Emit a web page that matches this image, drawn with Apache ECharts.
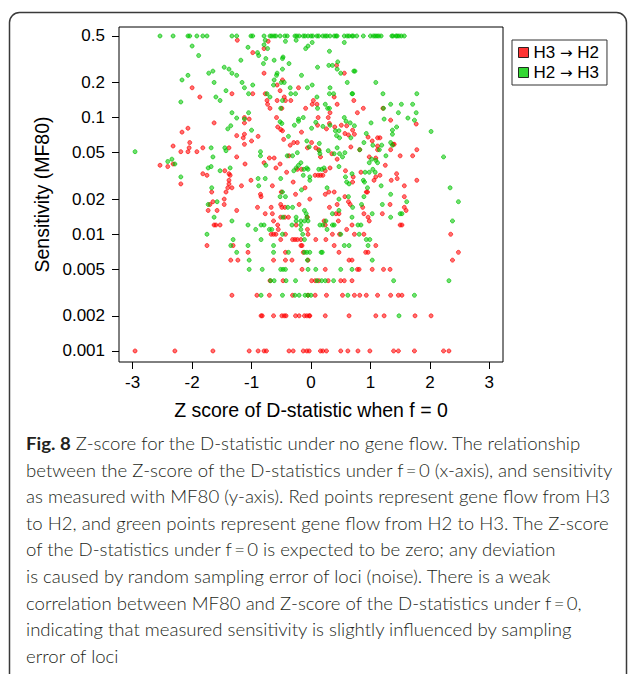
<!DOCTYPE html>
<html><head><meta charset="utf-8">
<script src="https://cdn.jsdelivr.net/npm/echarts@6/dist/echarts.min.js"></script>
<style>html,body{margin:0;padding:0;background:#fff}#c{width:629px;height:674px}</style>
</head><body><div id="c"></div>
<script>
const xTicks = [-3, -2, -1, 0, 1, 2, 3];
const yTicks = [0.001, 0.002, 0.005, 0.01, 0.02, 0.05, 0.1, 0.2, 0.5];
const yTickLabels = ['0.001', '0.002', '0.005', '0.01', '0.02', '0.05', '0.1', '0.2', '0.5'];
const seriesNames = ['H3 \u2192 H2', 'H2 \u2192 H3'];
const xTitle = 'Z score of D-statistic when f = 0';
const yTitle = 'Sensitivity (MF80)';

// H3 -> H2 : [Z score, sensitivity]
const redPoints = [
[-1.24,0.46],[-2.00,0.18],[-1.33,0.16],[-1.87,0.15],[-1.63,0.09],[-2.17,0.075],[-2.07,0.081],[-1.25,0.07],[-2.04,0.061],[-2.32,0.057],[-2.05,0.055],[-1.82,0.055],[-1.38,0.055],[-2.19,0.051],[-2.07,0.051],[-1.92,0.051],[-1.25,0.046],[-2.54,0.039],[-2.41,0.038],[-2.32,0.040],[-1.45,0.035],[-1.38,0.033],[-1.82,0.033],[-1.75,0.032],[-1.36,0.032],[-1.38,0.029],[-1.38,0.027],[-2.19,0.027],[-1.40,0.025],[-1.33,0.025],[-1.67,0.023],[-1.43,0.023],[-1.46,0.020],[-1.70,0.018],[-1.65,0.019],[-1.46,0.018],[-1.73,0.016],[-1.58,0.016],[-1.25,0.016],[-1.63,0.012],[-1.60,0.012],[-1.53,0.012],[-1.75,0.008],[-1.31,0.008],[-1.35,0.006],[-1.23,0.006],[-1.33,0.003],[-2.96,0.001],[-2.29,0.001],[-1.65,0.001],
[-0.79,0.39],[-0.72,0.45],[-0.98,0.36],[0.43,0.28],[0.56,0.24],[-0.79,0.24],[-0.48,0.21],[-0.57,0.19],[-0.21,0.18],[-0.98,0.16],[-0.52,0.17],[0.39,0.15],[0.72,0.14],[-0.77,0.16],[-0.45,0.15],[-0.57,0.14],[-0.43,0.14],[-0.34,0.14],[0.04,0.14],[0.02,0.13],[-0.74,0.14],[-0.73,0.13],[-0.69,0.12],[1.21,0.12],[0.88,0.12],[0.44,0.13],[0.10,0.13],[0.32,0.11],[-0.09,0.12],[-0.49,0.12],[0.78,0.11],[0.12,0.10],[0.29,0.10],[-0.58,0.10],[-1.12,0.10],[-1.04,0.097],[1.34,0.095],
[-1.12,0.090],[-0.51,0.079],[-0.48,0.077],[-0.56,0.083],[0.11,0.086],[0.26,0.080],[0.31,0.089],[0.40,0.083],[0.51,0.086],[0.60,0.085],[1.77,0.088],[-1.12,0.072],[-1.14,0.067],[-0.89,0.069],[-1.00,0.063],[-1.12,0.059],[-0.46,0.065],[-0.16,0.075],[0.57,0.073],[0.63,0.071],[0.70,0.078],[0.73,0.072],[0.96,0.068],[1.12,0.067],[1.16,0.067],[1.03,0.063],[-0.29,0.061],[-0.35,0.058],[-0.23,0.061],[0.01,0.061],[-0.06,0.055],[0.08,0.055],[0.13,0.053],[0.67,0.056],[0.82,0.053],[1.12,0.057],[1.12,0.053],[1.38,0.059],[1.40,0.059],[1.34,0.053],[1.50,0.047],[1.71,0.047],[1.78,0.053],[-0.70,0.045],[-0.62,0.045],[-0.37,0.047],[0.16,0.046],[0.35,0.049],[0.44,0.044],[0.98,0.046],[1.09,0.045],[-0.79,0.041],[-0.52,0.040],[-0.59,0.037],[-1.11,0.040],[-0.23,0.036],[-0.16,0.036],[-0.41,0.034],[0.24,0.035],[0.32,0.037],[0.58,0.035],[0.84,0.034],[1.16,0.032],[1.09,0.031],[1.44,0.033],[1.45,0.030],[1.35,0.029],[1.25,0.039],[1.57,0.026],[1.78,0.029],[0.07,0.032],[0.12,0.032],[0.20,0.032],[0.16,0.032],[-0.30,0.028],[0.71,0.031],[0.70,0.028],[1.06,0.029],[0.93,0.023],[0.95,0.023],[1.57,0.021],[-1.01,0.029],[-1.17,0.026],[-0.65,0.026],[-0.10,0.025],[-0.26,0.022],[-0.50,0.023],[-0.85,0.022],[-0.84,0.021],[-0.02,0.020],[0.24,0.022],[0.30,0.023],[0.39,0.023],[0.57,0.021],
[-0.90,0.017],[-0.67,0.017],[-0.51,0.018],[-0.49,0.017],[-0.44,0.017],[-0.20,0.018],[0.31,0.017],[0.44,0.018],[0.63,0.019],[0.66,0.018],[0.87,0.017],[1.33,0.018],[1.57,0.017],[1.60,0.016],[-0.77,0.015],[-0.65,0.015],[-0.51,0.014],[-0.44,0.014],[-0.38,0.014],[-0.06,0.014],[0.42,0.015],[0.47,0.015],[0.89,0.015],[0.96,0.014],[1.20,0.015],[-0.63,0.013],[0.46,0.013],[0.98,0.013],[0.22,0.013],[-0.56,0.012],[-0.25,0.012],[0.24,0.012],[0.69,0.012],[1.50,0.012],[1.53,0.012],[-0.55,0.011],[-0.06,0.011],[0.60,0.011],[-0.67,0.010],[-0.63,0.010],[-0.59,0.010],[-0.43,0.010],[-0.05,0.010],[0.36,0.010],[0.48,0.010],[0.73,0.010],[0.89,0.010],[-0.51,0.009],[-0.31,0.009],[-0.27,0.009],[-0.23,0.009],[-0.17,0.009],[0.08,0.009],[0.25,0.009],[-0.17,0.008],[-0.15,0.008],[0.39,0.008],[1.09,0.008],[-1.06,0.007],[-0.43,0.007],[-0.13,0.007],[0.47,0.007],[0.92,0.007],[0.96,0.007],[-0.63,0.006],[-0.43,0.006],[-0.32,0.006],[-0.05,0.006],[0.64,0.006],[0.69,0.006],[-0.15,0.005],[0.24,0.005],[0.78,0.005],[0.81,0.005],[1.03,0.005],[1.22,0.005],[1.33,0.005],
[-0.69,0.004],[-0.47,0.004],[0.01,0.004],[0.07,0.004],[0.13,0.004],[0.29,0.004],[0.50,0.004],[0.56,0.004],[0.69,0.004],
[-0.91,0.003],[-0.70,0.003],[-0.31,0.003],[-0.05,0.003],[0.07,0.003],[0.26,0.003],[0.53,0.003],[0.73,0.003],[0.82,0.003],[0.93,0.003],[1.12,0.003],[1.34,0.003],[1.47,0.003],[1.53,0.003],
[-0.84,0.002],[-0.82,0.002],[-0.63,0.002],[-0.49,0.002],[-0.45,0.002],[-0.42,0.002],[-0.26,0.002],[-0.20,0.002],[-0.11,0.002],[-0.07,0.002],[-0.03,0.002],[-0.02,0.002],[0.24,0.002],[0.64,0.002],[1.09,0.002],[1.23,0.002],[1.75,0.002],[2.02,0.002],
[-1.04,0.001],[-0.89,0.001],[-0.79,0.001],[-0.75,0.001],[-0.37,0.001],[-0.30,0.001],[-0.13,0.001],[-0.07,0.001],[-0.03,0.001],[0.16,0.001],[0.20,0.001],[0.26,0.001],[0.50,0.001],[0.62,0.001],[0.79,0.001],[0.99,0.001],[1.39,0.001],[1.47,0.001],[1.74,0.001],[2.23,0.001],[2.32,0.001],
[2.35,0.010],[2.48,0.007],[2.38,0.006]
];

// H2 -> H3 : [Z score, sensitivity]
const greenPoints = [
[-2.54,0.5],[-2.32,0.5],[-2.07,0.5],[-2.04,0.5],[-1.92,0.5],[-1.82,0.5],[-1.75,0.5],[-1.33,0.5],[-1.25,0.5],[-1.01,0.5],[-0.98,0.5],[-0.79,0.5],[-0.69,0.5],[-0.66,0.5],[-0.62,0.5],[-0.59,0.5],[-0.52,0.5],[-0.44,0.5],[-0.40,0.5],[-0.27,0.5],[-0.24,0.5],[-0.20,0.5],[-0.13,0.5],[-0.10,0.5],[-0.05,0.5],[0.00,0.5],[0.03,0.5],[0.10,0.5],[0.13,0.5],[0.20,0.5],[0.24,0.5],[0.27,0.5],[0.32,0.5],[0.39,0.5],[0.42,0.5],[0.44,0.5],[0.56,0.5],[0.61,0.5],[0.64,0.5],[0.69,0.5],[0.71,0.5],[0.77,0.5],[0.88,0.5],[1.00,0.5],[1.05,0.5],[1.08,0.5],[1.11,0.5],[1.14,0.5],[1.18,0.5],[1.36,0.5],[1.38,0.5],[1.43,0.5],[1.45,0.5],[1.48,0.5],[1.52,0.5],[1.57,0.5],
[-2.00,0.41],[-1.89,0.34],[-1.46,0.27],[-1.38,0.26],[-1.65,0.25],[-1.72,0.24],[-2.07,0.23],[-1.33,0.24],[-1.25,0.23],[-2.17,0.21],[-1.63,0.20],[-1.43,0.17],[-1.60,0.15],[-1.53,0.14],[-2.19,0.136],[-1.33,0.11],[-1.25,0.099],[-1.40,0.08],[-1.35,0.085],[-1.68,0.055],[-1.45,0.055],[-2.96,0.051],[-1.43,0.052],[-1.65,0.046],[-2.34,0.044],[-2.41,0.042],[-2.29,0.040],[-1.73,0.037],[-1.68,0.038],[-1.36,0.037],[-1.53,0.035],[-2.19,0.031],[-1.67,0.025],[-1.73,0.018],[-1.58,0.019],[-1.63,0.014],[-1.33,0.013],[-1.75,0.010],[-1.31,0.009],[-1.35,0.008],[-1.25,0.007],
[-1.06,0.40],[-0.79,0.42],[-0.73,0.39],[-0.77,0.46],[-0.43,0.45],[-0.25,0.46],[0.02,0.44],[-0.05,0.41],[-0.09,0.39],[0.56,0.44],[-0.90,0.36],[-0.88,0.34],[-0.76,0.32],[-0.80,0.29],[-0.62,0.31],[-0.47,0.33],[-0.48,0.32],[-0.37,0.29],[-0.48,0.26],[0.31,0.37],[0.30,0.28],[0.36,0.28],[0.45,0.30],[0.44,0.26],[0.50,0.24],[0.11,0.27],[0.72,0.25],[0.74,0.25],[-1.18,0.31],[-0.57,0.24],[-0.58,0.23],[-0.16,0.23],[-0.62,0.21],[-0.50,0.20],[-0.45,0.20],[-0.63,0.19],[-1.16,0.20],[-0.98,0.19],[-1.12,0.18],[-0.35,0.18],[-0.06,0.18],[0.02,0.19],[0.61,0.20],[1.09,0.20],[0.32,0.18],[-1.05,0.16],[-0.34,0.16],[-0.26,0.16],[0.31,0.16],[0.38,0.16],[0.69,0.16],[0.70,0.16],[0.10,0.15],[-0.74,0.16],[-0.69,0.15],[-0.48,0.14],[1.21,0.16],[1.78,0.16],[1.71,0.13],[1.52,0.13],[1.34,0.13],[1.22,0.12],[1.47,0.11],[1.77,0.11],[0.24,0.13],[0.11,0.12],[0.28,0.12],[0.31,0.12],[-0.51,0.12],[0.56,0.10],[-0.13,0.10],[-1.05,0.11],[-1.12,0.097],[-0.21,0.097],[1.23,0.097],[1.63,0.099],[1.74,0.095],
[-0.52,0.092],[-0.49,0.089],[-0.28,0.086],[-0.21,0.093],[0.01,0.081],[0.08,0.091],[0.20,0.084],[0.32,0.086],[0.59,0.093],[0.66,0.090],[0.73,0.085],[1.01,0.090],[1.44,0.083],[1.37,0.078],[1.37,0.072],[-1.00,0.078],[-0.38,0.069],[0.41,0.077],[0.47,0.077],[0.43,0.070],[0.48,0.067],[0.67,0.067],[0.93,0.073],[0.89,0.061],[-0.07,0.063],[0.14,0.060],[-0.03,0.056],[0.14,0.052],[0.29,0.052],[0.44,0.055],[1.04,0.058],[1.19,0.058],[1.15,0.053],[1.34,0.061],[1.37,0.058],[-0.85,0.051],[-0.85,0.047],[-0.40,0.047],[-0.31,0.047],[-0.23,0.050],[0.15,0.049],[0.39,0.049],[0.48,0.049],[0.53,0.046],[0.57,0.050],[0.82,0.053],[0.98,0.041],[1.02,0.044],[1.09,0.043],[1.12,0.041],[1.26,0.047],[-0.76,0.039],[-0.17,0.041],[-0.21,0.039],[-0.25,0.037],[-0.29,0.035],[-0.12,0.036],[-0.07,0.037],[-0.05,0.036],[-0.13,0.032],[0.13,0.036],[0.18,0.036],[0.22,0.037],[0.47,0.038],[0.69,0.033],[0.91,0.034],[0.98,0.034],[1.04,0.036],[1.08,0.034],[-0.02,0.031],[-0.02,0.029],[0.58,0.031],[0.60,0.028],[0.64,0.027],[0.88,0.029],[0.90,0.028],[0.95,0.025],[0.89,0.021],[1.18,0.026],[1.34,0.022],[-0.89,0.030],[-0.77,0.030],[-0.51,0.030],[-0.88,0.026],[-0.16,0.024],[-0.48,0.023],[-0.52,0.021],[-0.43,0.021],[0.27,0.025],[0.63,0.021],[0.47,0.020],
[-0.39,0.017],[-0.31,0.017],[-0.11,0.016],[0.70,0.017],[0.85,0.018],[1.20,0.018],[1.61,0.019],[-0.47,0.014],[-0.25,0.014],[-0.25,0.013],[-0.08,0.015],[-0.07,0.014],[0.36,0.015],[0.47,0.016],[1.03,0.015],[1.34,0.014],[1.50,0.015],[1.53,0.015],[0.69,0.014],[-0.17,0.013],[-0.11,0.013],[-0.05,0.013],[-1.06,0.012],[-0.84,0.012],[-0.79,0.012],[-0.32,0.012],[-0.17,0.012],[0.15,0.012],[0.20,0.012],[0.25,0.013],[0.36,0.012],[0.39,0.012],[0.79,0.012],[0.84,0.012],[-0.93,0.011],[-0.70,0.011],[-0.66,0.011],[-0.17,0.011],[0.27,0.011],[-0.48,0.010],[-0.14,0.010],[0.50,0.010],[0.81,0.010],[0.93,0.009],[0.99,0.009],[-0.84,0.009],[-0.11,0.009],[-1.06,0.008],[-0.63,0.008],[0.56,0.008],[0.64,0.008],[0.96,0.008],[-0.63,0.007],[-0.38,0.007],[-0.11,0.007],[-0.07,0.007],[-0.02,0.007],[0.17,0.007],[0.19,0.007],[-1.04,0.006],[-0.06,0.006],[1.03,0.006],
[-1.04,0.005],[-0.82,0.005],[-0.51,0.005],[-0.47,0.005],[-0.43,0.005],[-0.05,0.005],[0.08,0.005],[0.50,0.005],[0.69,0.005],
[-0.68,0.004],[-0.62,0.004],[-0.42,0.004],[-0.26,0.004],[0.10,0.004],[0.18,0.004],[0.24,0.004],[0.38,0.004],[1.39,0.004],
[-0.84,0.003],[-0.48,0.003],[-0.27,0.003],[-0.20,0.003],[-0.10,0.003],[-0.05,0.003],[0.00,0.003],[0.62,0.003],[1.74,0.003],
[1.48,0.002],
[2.02,0.076],[2.23,0.046],[2.34,0.025],[2.48,0.019],[2.38,0.013],[2.32,0.004]
];

const captionBold = 'Fig. 8';
const captionLines = [
  ' Z-score for the D-statistic under no gene flow. The relationship',
  'between the Z-score of the D-statistics under f\u2009=\u20090 (x-axis), and sensitivity',
  'as measured with MF80 (y-axis). Red points represent gene flow from H3',
  'to H2, and green points represent gene flow from H2 to H3. The Z-score',
  'of the D-statistics under f\u2009=\u20090 is expected to be zero; any deviation',
  'is caused by random sampling error of loci (noise). There is a weak',
  'correlation between MF80 and Z-score of the D-statistics under f\u2009=\u20090,',
  'indicating that measured sensitivity is slightly influenced by sampling',
  'error of loci'
];

const plotFont = '"Liberation Sans", Arial, sans-serif';
const capFont = 'Lato, "Noto Sans", sans-serif';
const capSize = 17;

// caption width scaling so that line 2 spans the same width as the reference
const mctx = document.createElement('canvas').getContext('2d');
mctx.font = '300 ' + capSize + 'px ' + capFont;
const capScale = 588 / mctx.measureText(captionLines[1]).width;

const chart = echarts.init(document.getElementById('c'), null, {renderer: 'svg', width: 629, height: 674});
const L10 = Math.log10;
const yMin = 0.000804, yMax = 0.597;

const captionGraphics = captionLines.map((line, i) => ({
  type: 'text', left: 26, top: 445 + i * 26.6 - capSize * 0.6,
  scaleX: capScale, originX: 0,
  style: {
    text: i === 0 ? '{b|' + captionBold + '}' + line : line,
    fill: '#231f20', font: '300 ' + capSize + 'px ' + capFont,
    rich: { b: { fontWeight: 'bold', fontSize: capSize, fontFamily: capFont, fill: '#231f20' } }
  }
}));

const option = {
  animation: false,
  textStyle: { fontFamily: plotFont },
  grid: { left: 119, right: 126, top: 27, bottom: 312, show: true, borderColor: '#000', borderWidth: 1, backgroundColor: 'transparent' },
  xAxis: {
    type: 'value', min: -3.23, max: 3.23,
    name: xTitle, nameLocation: 'middle', nameGap: 38,
    nameTextStyle: { fontSize: 19.5, color: '#000', fontFamily: plotFont },
    axisLine: { show: false }, splitLine: { show: false },
    axisTick: { show: true, length: 7, inside: false, customValues: xTicks, lineStyle: { color: '#000' } },
    axisLabel: { show: true, customValues: xTicks, margin: 12, fontSize: 17, color: '#000', formatter: v => String(Math.round(v)) }
  },
  yAxis: [
    { type: 'log', logBase: 10, min: yMin, max: yMax, position: 'left',
      axisLine: { show: false }, axisTick: { show: false }, axisLabel: { show: false }, splitLine: { show: false }, minorTick: { show: false } },
    { type: 'value', min: L10(yMin), max: L10(yMax), position: 'left',
      axisLine: { show: false }, splitLine: { show: false },
      axisTick: { show: true, length: 7, customValues: yTicks.map(L10), lineStyle: { color: '#000' } },
      axisLabel: { show: true, customValues: yTicks.map(L10), margin: 14, fontSize: 17, color: '#000',
        formatter: v => { const i = yTicks.findIndex(t => Math.abs(L10(t) - v) < 1e-6); return i >= 0 ? yTickLabels[i] : ''; } },
      name: yTitle, nameLocation: 'middle', nameGap: 67,
      nameTextStyle: { fontSize: 19.5, color: '#000', fontFamily: plotFont } }
  ],
  legend: {
    orient: 'vertical', left: 512, top: 40, padding: [4, 8, 4, 6], itemGap: 3,
    itemWidth: 10, itemHeight: 10, icon: 'rect', selectedMode: false,
    borderColor: '#333', borderWidth: 1, backgroundColor: '#fff',
    formatter: name => name.replace('\u2192', '{a|\u2192}'),
    textStyle: { fontSize: 17, color: '#000', lineHeight: 15, fontFamily: plotFont,
      rich: { a: { fontSize: 15, fontFamily: '"DejaVu Sans", sans-serif', color: '#000', lineHeight: 15 } } },
    data: [
      { name: seriesNames[0], itemStyle: { color: '#ff0000', borderColor: '#000', borderWidth: 1 } },
      { name: seriesNames[1], itemStyle: { color: '#00cd00', borderColor: '#000', borderWidth: 1 } }
    ]
  },
  series: [
    { type: 'scatter', name: seriesNames[0], yAxisIndex: 0, data: redPoints, symbol: 'circle', symbolSize: 4,
      itemStyle: { color: 'rgba(255,0,0,0.7)', borderColor: '#ff0000', borderWidth: 0.8 } },
    { type: 'scatter', name: seriesNames[1], yAxisIndex: 0, data: greenPoints, symbol: 'circle', symbolSize: 4,
      itemStyle: { color: 'rgba(0,200,0,0.7)', borderColor: '#00c000', borderWidth: 0.8 } }
  ],
  graphic: [
    { type: 'rect', shape: { x: 9.5, y: 12.5, width: 617, height: 720, r: 10 }, style: { fill: 'none', stroke: '#3a3a3a', lineWidth: 1.5 }, silent: true, z: -1 }
  ].concat(captionGraphics)
};
chart.setOption(option);
</script>
</body></html>
